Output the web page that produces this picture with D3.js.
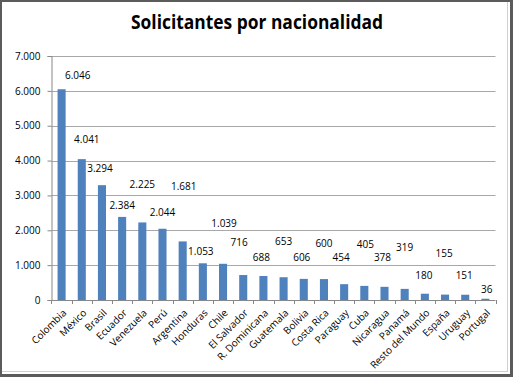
<!DOCTYPE html>
<html><head><meta charset="utf-8">
<script src="https://cdn.jsdelivr.net/npm/d3@7"></script>
<style>body{margin:0;background:#fff}svg{display:block}</style>
</head><body>
<script>
const categories = ["Colombia","México","Brasil","Ecuador","Venezuela","Perú","Argentina","Honduras","Chile","El Salvador","R. Dominicana","Guatemala","Bolivia","Costa Rica","Paraguay","Cuba","Nicaragua","Panamá","Resto del Mundo","España","Uruguay","Portugal"];
const values = [6046,4041,3294,2384,2225,2044,1681,1053,1039,716,688,653,606,600,454,405,378,319,180,155,151,36];
const valueLabels = ["6.046","4.041","3.294","2.384","2.225","2.044","1.681","1.053","1.039","716","688","653","606","600","454","405","378","319","180","155","151","36"];
// level (in data units) at which each data label sits, as placed in the original chart
const labelLevels = [6430,4610,3780,2725,3300,2500,3250,1385,2200,1645,1225,1690,1225,1625,1225,1605,1225,1510,690,1340,690,290];
// horizontal nudge of each data label, in fractions of a category band
const labelNudge = [0.8,0.25,-0.1,0,0,0,0.05,-0.1,0.05,-0.2,-0.1,0,-0.1,0,-0.15,0.05,-0.1,0,-0.05,-0.05,-0.05,0.07];
const yTicks = [0,1000,2000,3000,4000,5000,6000,7000];
const yTickLabels = ["0","1.000","2.000","3.000","4.000","5.000","6.000","7.000"];
const title = "Solicitantes por nacionalidad";

const W = 513, H = 377;
const svg = d3.select("body").append("svg").attr("width", W).attr("height", H);
const font = "'Open Sans', 'Liberation Sans', sans-serif";

svg.append("rect").attr("width", W).attr("height", H).attr("fill", "#5b5b5b");
svg.append("rect").attr("x", 2).attr("y", 2).attr("width", 508).attr("height", 372).attr("fill", "#fff");
svg.append("line").attr("x1", 507.5).attr("x2", 507.5).attr("y1", 2).attr("y2", 372).attr("stroke", "#d0d0d0");
svg.append("line").attr("x1", 2).attr("x2", 508).attr("y1", 371.5).attr("y2", 371.5).attr("stroke", "#d0d0d0");

const m = {left: 51.5, right: 495.5, top: 56, bottom: 300};
const x = d3.scaleBand().domain(categories).range([m.left, m.right]).paddingInner(0.6).paddingOuter(0.3);
const xb = d3.scaleBand().domain(categories).range([m.left, m.right]);
const y = d3.scaleLinear().domain([0, 7000]).range([m.bottom, m.top]);

svg.append("text").attr("x", 257).attr("y", 29).attr("text-anchor", "middle")
  .attr("font-family", font).attr("font-weight", "bold").attr("font-size", 20)
  .attr("textLength", 252).attr("lengthAdjust", "spacingAndGlyphs")
  .attr("fill", "#000").text(title);

// gridlines
svg.append("g").selectAll("line").data(yTicks.slice(1)).join("line")
  .attr("x1", m.left).attr("x2", m.right)
  .attr("y1", d => Math.round(y(d)) + 0.5).attr("y2", d => Math.round(y(d)) + 0.5)
  .attr("stroke", "#a8a8a8").attr("stroke-width", 1);

// y axis
const yAxis = d3.axisLeft(y).tickValues(yTicks).tickFormat((d, i) => yTickLabels[i]).tickSize(4).tickPadding(7);
const gy = svg.append("g").attr("transform", `translate(${m.left},0)`).call(yAxis);
gy.select(".domain").attr("stroke", "#888");
gy.selectAll(".tick line").attr("stroke", "#888");
gy.selectAll(".tick text").attr("font-family", font).attr("font-size", 10).attr("fill", "#000");

// bars
svg.append("g").selectAll("rect").data(values).join("rect")
  .attr("x", (d, i) => x(categories[i]))
  .attr("width", x.bandwidth())
  .attr("y", d => y(d))
  .attr("height", d => y(0) - y(d))
  .attr("fill", "#4f81bd");

// x axis
svg.append("line").attr("x1", m.left).attr("x2", m.right).attr("y1", m.bottom + 0.5).attr("y2", m.bottom + 0.5).attr("stroke", "#888");
const bounds = categories.map(c => xb(c)).concat([m.right]);
svg.append("g").selectAll("line").data(bounds).join("line")
  .attr("x1", d => Math.round(d) + 0.5).attr("x2", d => Math.round(d) + 0.5)
  .attr("y1", m.bottom).attr("y2", m.bottom + 4).attr("stroke", "#888");

svg.append("g").selectAll("text").data(categories).join("text")
  .attr("transform", d => `translate(${xb(d) + xb.bandwidth() / 2 + 3},${m.bottom + 11}) rotate(-45)`)
  .attr("text-anchor", "end").attr("dy", "0.35em")
  .attr("font-family", font).attr("font-size", 10).attr("fill", "#000")
  .text(d => d);

// data labels
svg.append("g").selectAll("text").data(valueLabels).join("text")
  .attr("x", (d, i) => xb(categories[i]) + xb.bandwidth() * (0.5 + labelNudge[i]))
  .attr("y", (d, i) => y(labelLevels[i]))
  .attr("dy", "0.35em").attr("text-anchor", "middle")
  .attr("font-family", font).attr("font-size", 10).attr("fill", "#000")
  .text(d => d);
</script>
</body></html>
